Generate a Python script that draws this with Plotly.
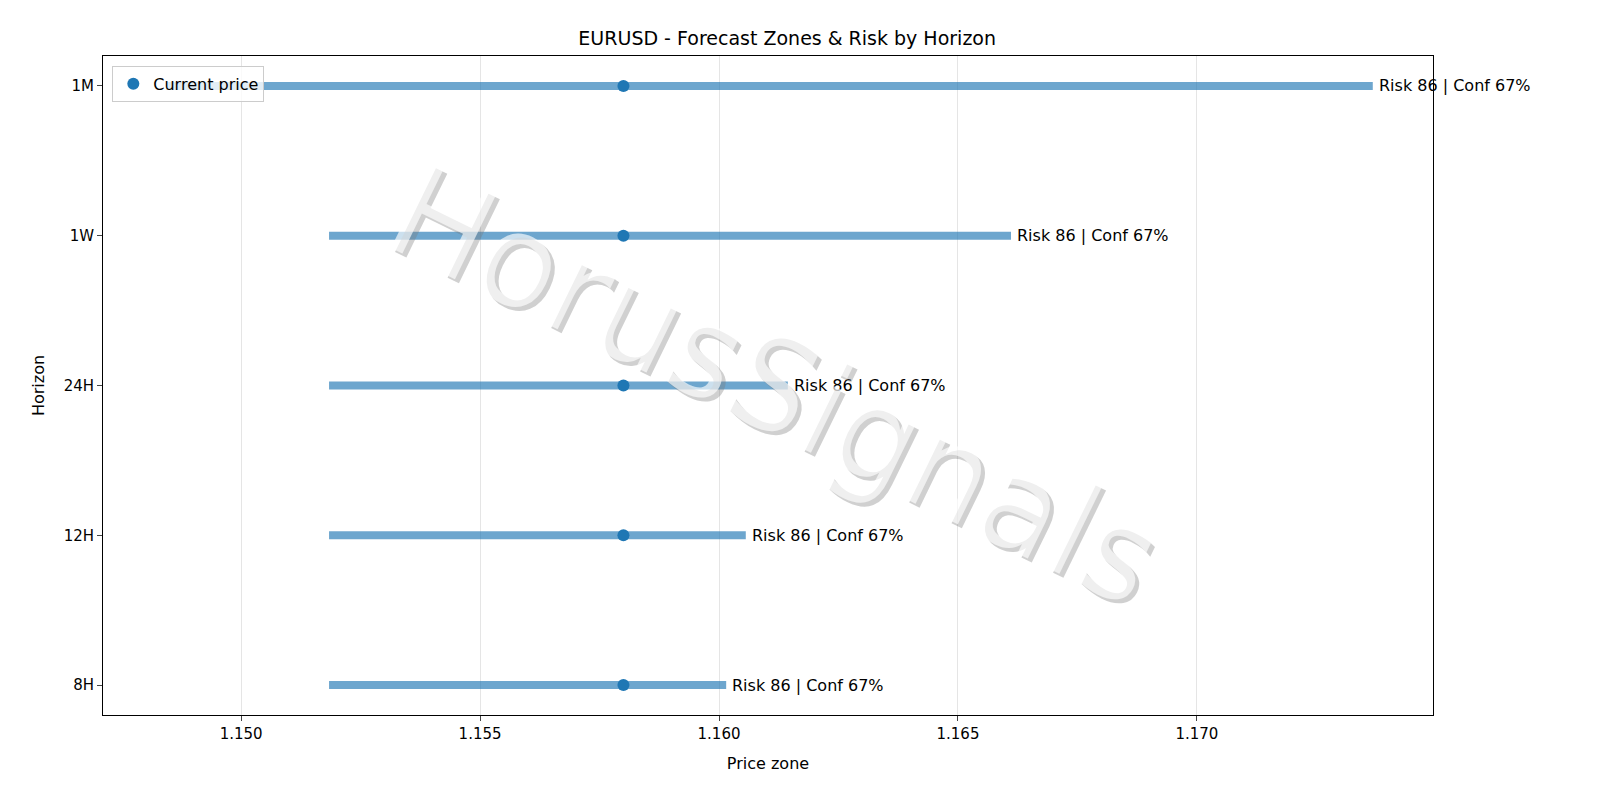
import plotly.graph_objects as go

horizons = ["8H", "12H", "24H", "1W", "1M"]
low = [1.15184, 1.15184, 1.15184, 1.15184, 1.14843]
high = [1.16015, 1.16056, 1.16144, 1.16611, 1.17368]
current = 1.1580
labels = ["Risk 86 | Conf 67%"] * 5
xticks = [1.150, 1.155, 1.160, 1.165, 1.170]

fig = go.Figure()
for i, h in enumerate(horizons):
    fig.add_trace(go.Scatter(x=[low[i], high[i]], y=[i, i], mode="lines",
                             line=dict(color="rgba(31,119,180,0.65)", width=8),
                             showlegend=False, hoverinfo="skip"))
    fig.add_annotation(x=high[i], y=i, text=labels[i], showarrow=False,
                       xanchor="left", xshift=4, font=dict(size=16, color="black"))
fig.add_trace(go.Scatter(x=[current] * 5, y=list(range(5)), mode="markers",
                         marker=dict(color="#1f77b4", size=12), name="Current price"))

for dx, dy, col in [(4, -4, "rgba(120,120,120,0.35)"), (0, 0, "rgba(255,255,255,0.65)")]:
    fig.add_annotation(x=0.505, y=0.5, xref="paper", yref="paper", text="HorusSignals",
                       showarrow=False, textangle=26, xshift=dx, yshift=dy,
                       font=dict(size=128, color=col, family="DejaVu Sans"))

fig.update_layout(
    width=1600, height=800, plot_bgcolor="white", paper_bgcolor="white",
    margin=dict(l=95, r=175, t=48, b=93),
    font=dict(family="DejaVu Sans", size=15, color="black"),
    title=dict(text="EURUSD - Forecast Zones & Risk by Horizon", x=0.487, xanchor="center",
               y=1 - 30 / 800, yanchor="middle", yref="container", font=dict(size=19)),
    legend=dict(x=0.007, y=0.985, xanchor="left", yanchor="top",
                bordercolor="#cccccc", borderwidth=1, bgcolor="rgba(255,255,255,0.8)",
                font=dict(size=16)),
    xaxis=dict(range=[1.14711, 1.17494], tickvals=xticks,
               ticktext=[f"{v:.3f}" for v in xticks], showgrid=True, gridcolor="#e5e5e5",
               showline=True, linecolor="black", mirror=True, ticks="outside",
               title=dict(text="Price zone", font=dict(size=16)), zeroline=False),
    yaxis=dict(range=[-0.2, 4.2], tickvals=list(range(5)), ticktext=horizons,
               showgrid=False, showline=True, linecolor="black", mirror=True,
               ticks="outside", title=dict(text="Horizon", font=dict(size=16)), zeroline=False),
)
fig.write_html("out.html")
